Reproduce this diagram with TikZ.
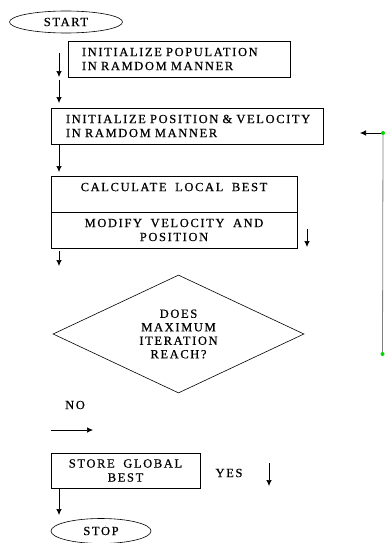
\documentclass[tikz,border=0pt]{standalone}
\usepackage{fontspec}
\setmainfont{Liberation Serif}[LetterSpace=13,WordSpace=1.8,FakeBold=0.6]
\usetikzlibrary{shapes.geometric,arrows.meta}
\begin{document}
\begin{tikzpicture}[x=1pt,y=-1pt,
        >={Latex[length=6pt,width=5.5pt]},
        texto/.style={font=\fontsize{12.5}{14}\selectfont},
        caja/.style={texto, draw, line width=.8pt, inner ysep=0pt},
        elipse/.style={texto, draw, ellipse, line width=.6pt, inner sep=0pt},
        rombo/.style={draw, diamond, aspect=2.6, line width=.6pt, inner sep=0pt,
            align=center, font=\fontsize{12.5}{13.5}\selectfont}]
        \useasboundingbox (0,0) rectangle (385,543);
        % Inicio
        \node[elipse, minimum width=113pt, minimum height=22pt] (inicio) at (66,22) {START};
        % Cajas del proceso
        \node[caja, minimum width=222pt, minimum height=36pt, inner xsep=14pt,
            text width=194pt, align=left] (poblacion) at (179,59)
            {\mbox{INITIALIZE POPULATION}\\\mbox{IN RAMDOM MANNER}};
        \node[caja, minimum width=272pt, minimum height=36pt, inner xsep=15pt,
            text width=242pt, align=left] (posicion) at (187,126)
            {\mbox{INITIALIZE POSITION \& VELOCITY}\\\mbox{IN RAMDOM MANNER}};
        \node[caja, minimum width=246pt, minimum height=36pt, align=center] (local) at (174,194)
            {CALCULATE LOCAL BEST\\ \mbox{}};
        \node[caja, minimum width=246pt, minimum height=36pt, align=center] (velocidad) at (174,230)
            {MODIFY VELOCITY AND\\POSITION};
        % Decision
        \node[rombo, minimum width=251pt, minimum height=118pt] (decision) at (178.5,334)
            {DOES\\MAXIMUM\\ITERATION\\REACH?};
        \node[texto] (no) at (75,405) {NO};
        \node[caja, minimum width=149pt, minimum height=35pt, align=center] (global) at (125.5,470.5)
            {STORE GLOBAL\\BEST};
        \node[texto] (si) at (229,473) {YES};
        % Fin
        \node[elipse, minimum width=100pt, minimum height=25pt] (fin) at (101,531) {STOP};
        % Flechas sueltas
        \foreach \i/\x/\a/\b in {1/59/53/77, 2/59/80/103, 3/59/144/172, 4/307/229/247,
                5/59/251/266, 6/269/463/486, 7/59/489/515}
        {
            \coordinate (f\i-a) at (\x,\a);
            \coordinate (f\i-b) at (\x,\b);
            \draw[->, line width=.7pt] (f\i-a) -- (f\i-b);
        }
        \coordinate (h-a) at (51,430);
        \coordinate (h-b) at (93,430);
        \draw[->, line width=.7pt] (h-a) -- (h-b);
        % Lazo de regreso
        \coordinate (lazo-sup) at (383,133);
        \coordinate (lazo-inf) at (382.5,354);
        \coordinate (lazo-fin) at (360,133);
        \draw[gray, line width=.8pt] (lazo-sup) -- (lazo-inf);
        \draw[->, line width=.7pt] (lazo-sup) -- (lazo-fin);
        \fill[green!85!black] (lazo-sup) circle (2pt) (lazo-inf) circle (2pt);
    \end{tikzpicture}
\end{document}
